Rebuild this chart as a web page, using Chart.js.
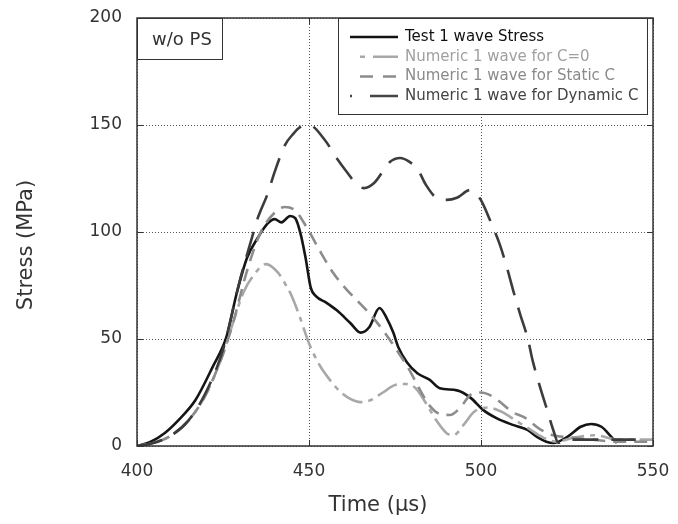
<!DOCTYPE html>
<html>
<head>
<meta charset="utf-8">
<script src="https://cdn.jsdelivr.net/npm/chart.js@4.4.1/dist/chart.umd.min.js"></script>
<style>
  body { margin: 0; background: #fff; }
</style>
</head>
<body>
<canvas id="chart" width="678" height="524"></canvas>
<script>
// values (time in µs, stress in MPa)
const testTime   = [400, 404, 408, 412, 417, 422, 426, 429, 432, 435, 438, 440, 442, 444.5, 446, 447.5, 449, 450.5, 452, 455, 458, 462, 465, 467.5, 470.5, 472.5, 474.5, 476, 478.5, 481.5, 485, 488, 493, 497, 500.5, 504.5, 509, 513.5, 516.5, 519, 521, 525, 529, 532, 535, 537.5, 539.5];
const testStress = [0, 2, 6, 12, 21.5, 37, 51, 71.5, 88, 97, 104, 106, 104.5, 107.5, 106.5, 99.5, 88, 74, 70, 67, 63.5, 57.5, 53, 55.5, 64.5, 60, 53, 46, 39, 34, 31, 27, 26, 22.5, 17, 13, 10, 7.5, 4, 2, 1.4, 4.2, 9, 10.3, 9, 5, 1.4];

const c0Time   = [400, 405, 410, 415, 420, 425, 428, 431, 434, 437.5, 441, 443, 445, 447.4, 450, 453, 456, 459, 462, 465, 468, 471.5, 475, 478, 481, 484, 487, 490, 492, 495, 498, 502, 506, 510, 514, 518, 522, 527, 533, 540, 550];
const c0Stress = [0, 1.5, 5, 12, 24, 43, 58, 72, 80, 85, 81, 76, 70, 60, 48, 38, 31, 25.5, 22, 20.5, 21.5, 25, 28.5, 29, 27, 20, 12, 6, 5, 10, 16, 18, 16, 12, 8, 4, 2, 4, 5, 3, 3];

const staticTime   = [400, 405, 410, 415, 420, 425, 428, 432, 436, 440, 443, 446, 449.4, 453, 457, 461, 464, 468.6, 472, 475, 479, 482, 485, 488, 491, 494, 497, 500, 503.5, 506, 509, 513, 517, 521, 526, 532, 540, 550];
const staticStress = [0, 1.5, 5, 12, 24, 43, 58, 82, 100, 109, 111.7, 110, 102, 91.6, 81, 73, 68, 60, 53, 46, 36, 27, 19, 15, 14.5, 18, 24, 25, 23, 20, 16, 13, 8, 5, 4, 3, 2, 2];

const dynTime   = [400, 405, 410, 415, 420, 425, 430, 433, 435, 438, 440, 443, 445.5, 447.4, 450, 454.6, 458, 461, 464, 466, 469, 473.5, 476.5, 479, 481.7, 484, 487, 490, 493, 496.8, 499, 500.3, 502.6, 505.5, 507.5, 509.3, 511.3, 513.7, 515, 517, 519, 521, 522.5, 525, 545];
const dynStress = [0, 1.5, 5, 12, 25, 45, 78, 95, 106, 118, 128, 140.6, 146, 149, 150, 143, 134.6, 128, 122, 120.5, 123, 132.7, 134.6, 133, 129, 122, 116, 115, 116, 119.6, 117, 114, 105.6, 94, 83.6, 73, 62, 49.5, 40, 28.5, 18, 7.5, 1.5, 3, 3];

const seriesNames = ['Test 1 wave Stress', 'Numeric 1 wave for C=0', 'Numeric 1 wave for Static C', 'Numeric 1 wave for Dynamic C'];
const xTicks = [400, 450, 500, 550];
const yTicks = [0, 50, 100, 150, 200];

function pts(xs, ys) {
    return xs.map((x, i) => ({x: x, y: ys[i]}));
}

const FONT = '"DejaVu Sans", sans-serif';

// frame, inner tick marks, axis titles, the "w/o PS" tag and the legend box
const decorations = {
    id: 'decorations',
    afterDatasetsDraw(chart) {
        const ctx = chart.ctx;
        const a = chart.chartArea;
        const xs = chart.scales.x, ys = chart.scales.y;
        ctx.save();
        ctx.strokeStyle = '#333';
        ctx.lineWidth = 1.5;
        ctx.strokeRect(a.left, a.top, a.right - a.left, a.bottom - a.top);

        ctx.lineWidth = 1;
        ctx.beginPath();
        xTicks.forEach(v => {
            let px = Math.round(xs.getPixelForValue(v)) + 0.5;
            ctx.moveTo(px, a.bottom); ctx.lineTo(px, a.bottom - 6);
            ctx.moveTo(px, a.top); ctx.lineTo(px, a.top + 6);
        });
        yTicks.forEach(v => {
            let py = Math.round(ys.getPixelForValue(v)) + 0.5;
            ctx.moveTo(a.left, py); ctx.lineTo(a.left + 6, py);
            ctx.moveTo(a.right, py); ctx.lineTo(a.right - 6, py);
        });
        ctx.stroke();

        // axis titles (sit a little off-centre in the original)
        ctx.fillStyle = '#333';
        ctx.font = '21px ' + FONT;
        ctx.textAlign = 'center';
        ctx.textBaseline = 'middle';
        ctx.fillText('Time (µs)', 378, 506);
        ctx.save();
        ctx.translate(27, 245);
        ctx.rotate(-Math.PI / 2);
        ctx.fillText('Stress (MPa)', 0, 0);
        ctx.restore();
        ctx.textAlign = 'left';

        // "w/o PS" tag
        ctx.fillStyle = '#fff';
        ctx.fillRect(a.left, a.top, 85, 41);
        ctx.strokeStyle = '#333';
        ctx.strokeRect(a.left + 0.5, a.top + 0.5, 85, 41);
        ctx.fillStyle = '#333';
        ctx.font = '18px ' + FONT;
        ctx.textBaseline = 'alphabetic';
        ctx.fillText('w/o PS', a.left + 15, a.top + 27);

        // legend
        const lx = 338.5, ly = a.top + 0.5, lw = 309, lh = 96;
        ctx.fillStyle = '#fff';
        ctx.fillRect(lx, ly, lw, lh);
        ctx.strokeStyle = '#333';
        ctx.strokeRect(lx, ly, lw, lh);
        const samples = [
            {dash: [], from: 350, color: '#111', text: '#111'},
            {dash: [5, 8, 25, 100], from: 360, color: '#a8a8a8', text: '#a0a0a0'},
            {dash: [13, 10, 13, 100], from: 360, color: '#8c8c8c', text: '#8a8a8a'},
            {dash: [2, 18, 28, 100], from: 350, color: '#444', text: '#444'}
        ];
        ctx.font = '15px ' + FONT;
        ctx.textBaseline = 'middle';
        samples.forEach((s, i) => {
            let y = a.top + 19 + i * 19.7;
            ctx.setLineDash(s.dash);
            ctx.strokeStyle = s.color;
            ctx.lineWidth = 2.5;
            ctx.beginPath();
            ctx.moveTo(s.from, y); ctx.lineTo(398, y);
            ctx.stroke();
            ctx.setLineDash([]);
            ctx.fillStyle = s.text;
            ctx.fillText(seriesNames[i], 405, y);
        });
        ctx.restore();
    }
};

new Chart(document.getElementById('chart'), {
    type: 'line',
    data: {
        datasets: [
            {label: seriesNames[0], data: pts(testTime, testStress), borderColor: '#151515', borderWidth: 2.6},
            {label: seriesNames[1], data: pts(c0Time, c0Stress), borderColor: '#a8a8a8', borderWidth: 2.6, borderDash: [22, 6, 5, 6]},
            {label: seriesNames[2], data: pts(staticTime, staticStress), borderColor: '#8c8c8c', borderWidth: 2.6, borderDash: [13, 8]},
            {label: seriesNames[3], data: pts(dynTime, dynStress), borderColor: '#3c3c3c', borderWidth: 2.6, borderDash: [26, 13]}
        ].reverse()
    },
    options: {
        responsive: false,
        animation: false,
        devicePixelRatio: 1,
        elements: {
            point: {radius: 0},
            line: {cubicInterpolationMode: 'monotone', fill: false}
        },
        layout: {padding: {top: 18, right: 25, left: 0, bottom: 0}},
        plugins: {
            legend: {display: false},
            tooltip: {enabled: false}
        },
        scales: {
            x: {
                type: 'linear',
                min: 400,
                max: 550,
                afterBuildTicks: s => { s.ticks = xTicks.map(v => ({value: v})); },
                afterFit: s => { s.height = 78; },
                ticks: {padding: 3, color: '#333', font: {size: 17, family: FONT}, maxRotation: 0},
                // invisible tick marks only push the labels away from the axis
                grid: {color: '#555', lineWidth: 1, drawTicks: true, tickLength: 12, tickColor: 'rgba(0,0,0,0)'},
                border: {display: false, dash: [1, 2]}
            },
            y: {
                min: 0,
                max: 200,
                afterBuildTicks: s => { s.ticks = yTicks.map(v => ({value: v})); },
                afterFit: s => { s.width = 137; },
                ticks: {padding: 3, color: '#333', font: {size: 17, family: FONT}},
                grid: {color: '#555', lineWidth: 1, drawTicks: true, tickLength: 12, tickColor: 'rgba(0,0,0,0)'},
                border: {display: false, dash: [1, 2]}
            }
        }
    },
    plugins: [decorations]
});
</script>
</body>
</html>
